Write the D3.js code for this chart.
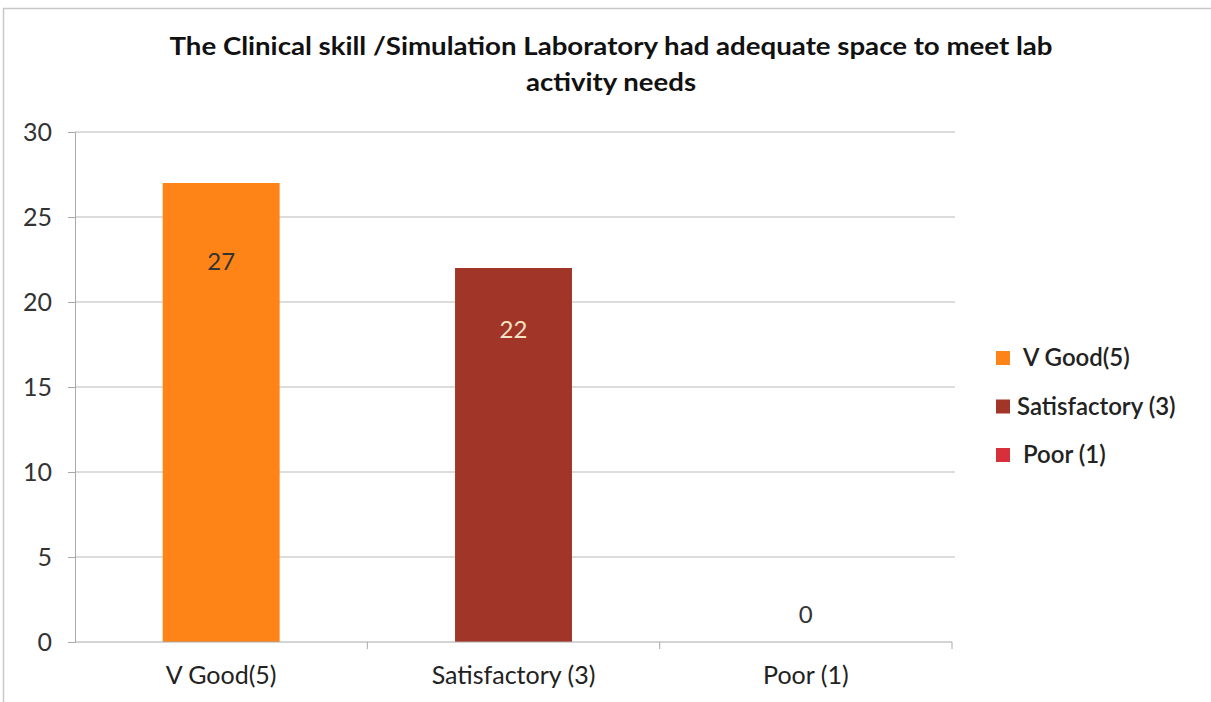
<!DOCTYPE html>
<html><head><meta charset="utf-8">
<script src="https://cdn.jsdelivr.net/npm/d3@7"></script>
<style>body{margin:0;background:#fff}svg{display:block}</style>
</head><body>
<script>
const categories = ["V Good(5)", "Satisfactory (3)", "Poor (1)"];
const values = [27, 22, 0];
const colors = ["#FF8418", "#A13628", "#D8303A"];
const labelColors = ["#333333", "#F3E3C4", "#333333"];
const yTicks = [0, 5, 10, 15, 20, 25, 30];
const titleLines = ["The Clinical skill /Simulation Laboratory had adequate space to meet lab", "activity needs"];

(function(){
const W = 1211, H = 702;
const svg = d3.select("body").append("svg").attr("width", W).attr("height", H);
const font = "Lato, 'Open Sans', sans-serif";

svg.append("path").attr("d", `M3.5,702 V8.5 H1211`).attr("fill","none").attr("stroke","#c8c8c8").attr("stroke-width",1.5);

const pLeft = 75, pRight = 952, pTop = 132, pBottom = 642;
const x = d3.scaleBand().domain(categories).range([pLeft, pRight]).paddingInner(0.6).paddingOuter(0.3);
const y = d3.scaleLinear().domain([0, 30]).range([pBottom, pTop]);

svg.append("g").selectAll("line").data(yTicks.filter(d=>d>0)).join("line")
  .attr("x1", pLeft).attr("x2", pRight + 3).attr("y1", d=>y(d)).attr("y2", d=>y(d))
  .attr("stroke", "#b9b9b9").attr("stroke-width", 1.2);

svg.append("g").selectAll("rect").data(values).join("rect")
  .attr("x", (d,i)=>x(categories[i])).attr("width", x.bandwidth())
  .attr("y", d=>y(d)).attr("height", d=>y(0)-y(d))
  .attr("fill", (d,i)=>colors[i]);

const gy = svg.append("g").attr("transform", `translate(${pLeft},0)`)
  .call(d3.axisLeft(y).tickValues(yTicks).tickSize(7).tickPadding(16));
gy.select(".domain").attr("stroke", "#a8a8a8");
gy.selectAll(".tick line").attr("stroke", "#a8a8a8");
gy.selectAll(".tick text").attr("font-family", font).attr("font-size", 25).attr("fill", "#333");

const gx = svg.append("g").attr("transform", `translate(0,${pBottom})`)
  .call(d3.axisBottom(x).tickSize(0).tickPadding(24));
gx.select(".domain").attr("stroke", "#a8a8a8").attr("d", `M${pLeft},0H${pRight}`);
gx.selectAll(".tick text").attr("font-family", font).attr("font-size", 25).attr("fill", "#222");

const bounds = categories.map((c,i)=> x(c) + x.bandwidth()/2 + x.step()/2);
svg.append("g").selectAll("line").data(bounds).join("line")
  .attr("x1", d=>d).attr("x2", d=>d).attr("y1", pBottom).attr("y2", pBottom+7)
  .attr("stroke", "#a8a8a8");

const labelOffsets = [87, 70, -19];
svg.append("g").selectAll("text").data(values).join("text")
  .attr("x", (d,i)=>x(categories[i]) + x.bandwidth()/2)
  .attr("y", (d,i)=> y(d) + labelOffsets[i])
  .attr("text-anchor", "middle").attr("font-family", font).attr("font-size", 24)
  .attr("fill", (d,i)=>labelColors[i]).text(d=>d);

const titleWidths = [883, 170];
svg.append("g").selectAll("text").data(titleLines).join("text")
  .attr("x", 611).attr("y", (d,i)=>55 + i*36).attr("text-anchor","middle")
  .attr("font-family", font).attr("font-weight","bold").attr("font-size", 25).attr("fill","#111")
  .attr("textLength", (d,i)=>titleWidths[i]).attr("lengthAdjust","spacingAndGlyphs")
  .text(d=>d);

const lg = svg.append("g").selectAll("g").data(categories).join("g")
  .attr("transform", (d,i)=>`translate(996,${358 + i*48.5})`);
lg.append("rect").attr("y", -7).attr("width", 14).attr("height", 14).attr("fill", (d,i)=>colors[i]);
lg.append("text").attr("x", (d,i)=> i===1 ? 21 : 27).attr("y", 8).attr("font-family", font).attr("font-size", 24).attr("font-weight", 600).attr("fill","#222").text(d=>d);
})();
</script>
</body></html>
